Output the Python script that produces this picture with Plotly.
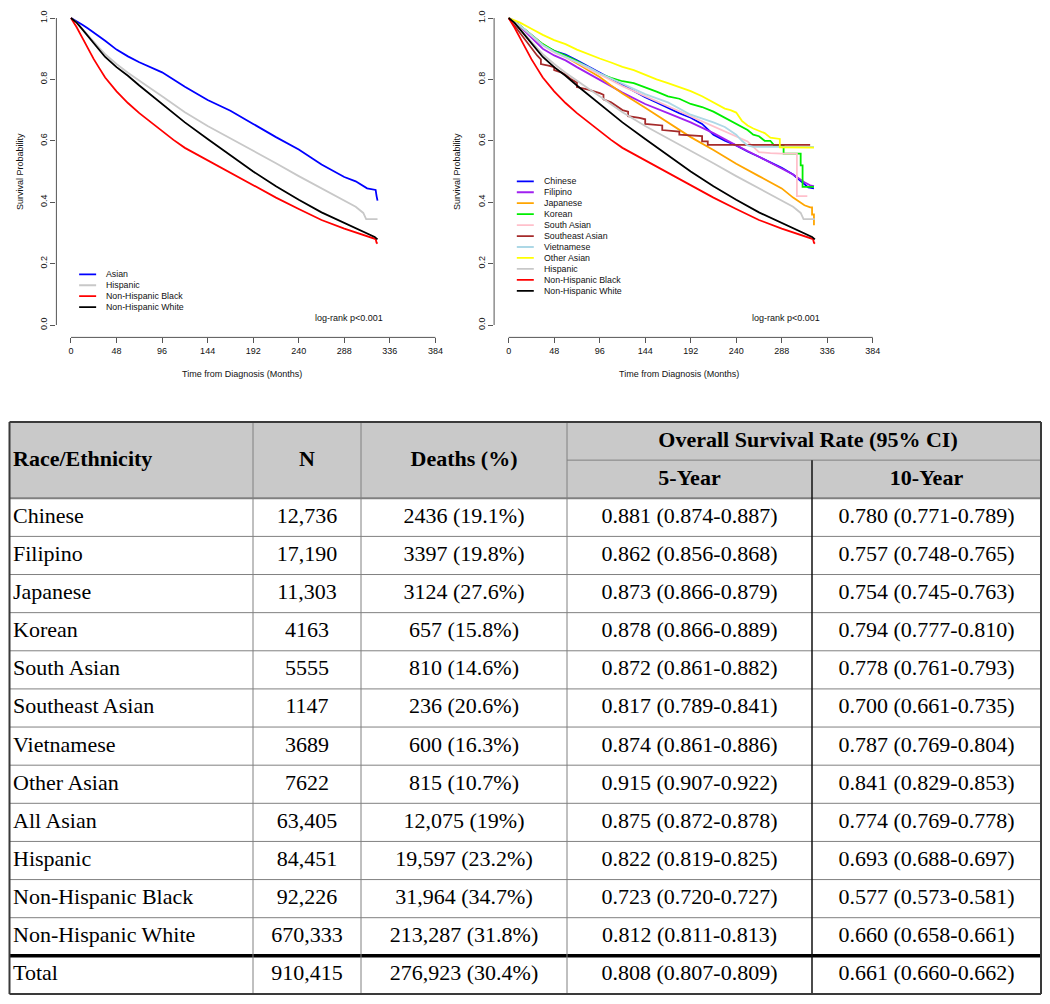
import plotly.graph_objects as go

# ---------------- Kaplan-Meier curves ----------------
asian_t = [0, 6, 12, 18, 24, 30, 36, 48, 60, 72, 84, 96, 108, 120, 144, 168, 192, 216, 240, 264, 288, 300, 312, 318, 321, 322, 323]
asian_s = [1.0, 0.99, 0.978, 0.966, 0.953, 0.94, 0.926, 0.897, 0.875, 0.856, 0.84, 0.823, 0.8, 0.776, 0.733, 0.698, 0.655, 0.612, 0.572, 0.523, 0.482, 0.468, 0.445, 0.44, 0.44, 0.42, 0.405]

hisp_t = [0, 6, 12, 18, 24, 30, 36, 48, 60, 72, 84, 96, 108, 120, 144, 168, 192, 216, 240, 264, 288, 300, 308, 311, 323]
hisp_s = [1.0, 0.985, 0.965, 0.943, 0.922, 0.902, 0.882, 0.85, 0.822, 0.795, 0.77, 0.745, 0.719, 0.693, 0.648, 0.608, 0.568, 0.527, 0.485, 0.445, 0.405, 0.385, 0.365, 0.345, 0.345]

nhb_t = [0, 3, 6, 12, 18, 24, 30, 36, 48, 60, 72, 84, 96, 108, 120, 144, 168, 192, 216, 240, 264, 288, 300, 312, 318, 321, 322, 323]
nhb_s = [1.0, 0.985, 0.97, 0.935, 0.9, 0.866, 0.836, 0.806, 0.761, 0.723, 0.69, 0.66, 0.632, 0.603, 0.577, 0.537, 0.495, 0.455, 0.415, 0.378, 0.342, 0.314, 0.302, 0.29, 0.283, 0.28, 0.268, 0.265]

nhw_t = [0, 6, 12, 18, 24, 30, 36, 48, 60, 72, 84, 96, 108, 120, 144, 168, 192, 216, 240, 264, 288, 300, 312, 320, 323]
nhw_s = [1.0, 0.985, 0.963, 0.94, 0.917, 0.895, 0.873, 0.84, 0.812, 0.78, 0.75, 0.72, 0.69, 0.66, 0.606, 0.552, 0.5, 0.452, 0.408, 0.367, 0.332, 0.316, 0.298, 0.287, 0.279]

chinese_t = [0, 6, 12, 24, 36, 48, 60, 72, 84, 96, 108, 120, 132, 144, 156, 168, 180, 192, 204, 216, 228, 240, 252, 264, 276, 288, 300, 306, 312, 316, 322]
chinese_s = [1.0, 0.99, 0.975, 0.945, 0.912, 0.893, 0.881, 0.862, 0.842, 0.82, 0.8, 0.78, 0.762, 0.742, 0.725, 0.707, 0.69, 0.675, 0.655, 0.62, 0.6, 0.585, 0.565, 0.548, 0.53, 0.512, 0.49, 0.475, 0.46, 0.448, 0.445]

filipino_t = [0, 6, 12, 24, 36, 48, 60, 72, 84, 96, 108, 120, 144, 168, 192, 216, 240, 264, 288, 300, 312, 318, 322]
filipino_s = [1.0, 0.99, 0.973, 0.935, 0.9, 0.878, 0.862, 0.84, 0.82, 0.8, 0.778, 0.757, 0.72, 0.69, 0.66, 0.625, 0.585, 0.548, 0.51, 0.49, 0.465, 0.455, 0.452]

japanese_t = [0, 12, 24, 36, 48, 60, 72, 84, 96, 108, 120, 144, 168, 192, 216, 240, 264, 288, 300, 312, 318, 320, 320, 322, 322]
japanese_s = [1.0, 0.975, 0.945, 0.915, 0.89, 0.873, 0.852, 0.83, 0.808, 0.78, 0.754, 0.708, 0.66, 0.612, 0.57, 0.525, 0.485, 0.445, 0.415, 0.39, 0.383, 0.383, 0.36, 0.36, 0.325]

korean_t = [0, 12, 24, 36, 48, 60, 72, 84, 96, 108, 120, 132, 144, 156, 168, 180, 192, 204, 216, 228, 240, 252, 258, 264, 270, 276, 280, 288, 290, 290, 308, 308, 310, 310, 322]
korean_s = [1.0, 0.975, 0.945, 0.915, 0.893, 0.878, 0.86, 0.84, 0.818, 0.805, 0.794, 0.788, 0.775, 0.76, 0.745, 0.737, 0.72, 0.71, 0.695, 0.675, 0.655, 0.635, 0.62, 0.615, 0.6, 0.6, 0.585, 0.585, 0.585, 0.558, 0.558, 0.52, 0.52, 0.45, 0.45]

sasian_t = [0, 12, 24, 36, 48, 60, 72, 84, 96, 108, 120, 144, 168, 192, 204, 216, 228, 240, 252, 258, 264, 276, 288, 304, 304, 315]
sasian_s = [1.0, 0.975, 0.942, 0.91, 0.888, 0.872, 0.855, 0.835, 0.815, 0.797, 0.778, 0.745, 0.712, 0.68, 0.662, 0.645, 0.63, 0.612, 0.598, 0.58, 0.563, 0.56, 0.558, 0.558, 0.42, 0.42]

seasian_t = [0, 6, 12, 18, 24, 30, 34, 34, 42, 48, 48, 56, 60, 66, 72, 72, 84, 90, 96, 100, 100, 108, 114, 120, 126, 126, 138, 144, 144, 156, 162, 162, 174, 180, 180, 198, 204, 204, 210, 210, 318]
seasian_s = [1.0, 0.975, 0.952, 0.925, 0.9, 0.878, 0.865, 0.85, 0.845, 0.84, 0.83, 0.822, 0.815, 0.8, 0.79, 0.775, 0.767, 0.762, 0.755, 0.75, 0.735, 0.725, 0.712, 0.7, 0.695, 0.68, 0.675, 0.67, 0.655, 0.652, 0.65, 0.635, 0.632, 0.63, 0.62, 0.618, 0.615, 0.598, 0.598, 0.587, 0.587]

viet_t = [0, 12, 24, 36, 48, 60, 72, 84, 96, 108, 120, 144, 168, 192, 216, 228, 240, 246, 252, 258, 322]
viet_s = [1.0, 0.975, 0.945, 0.912, 0.89, 0.874, 0.857, 0.84, 0.82, 0.803, 0.787, 0.752, 0.725, 0.685, 0.66, 0.645, 0.62, 0.6, 0.585, 0.58, 0.58]

other_t = [0, 12, 24, 36, 48, 60, 72, 84, 96, 108, 120, 132, 144, 156, 168, 180, 192, 204, 216, 228, 234, 240, 246, 252, 258, 264, 270, 276, 286, 286, 322]
other_s = [1.0, 0.985, 0.965, 0.945, 0.928, 0.915, 0.897, 0.882, 0.868, 0.855, 0.841, 0.83, 0.815, 0.8, 0.788, 0.775, 0.762, 0.745, 0.725, 0.705, 0.7, 0.692, 0.665, 0.65, 0.64, 0.632, 0.625, 0.61, 0.606, 0.579, 0.578]

x_ticks = [0, 48, 96, 144, 192, 240, 288, 336, 384]
y_ticks = [0, 0.2, 0.4, 0.6, 0.8, 1.0]
y_ticktext = ["0.0", "0.2", "0.4", "0.6", "0.8", "1.0"]

# ---------------- table ----------------
races = ["Chinese", "Filipino", "Japanese", "Korean", "South Asian", "Southeast Asian",
         "Vietnamese", "Other Asian", "All Asian", "Hispanic", "Non-Hispanic Black",
         "Non-Hispanic White", "Total"]
n_vals = ["12,736", "17,190", "11,303", "4163", "5555", "1147", "3689", "7622",
          "63,405", "84,451", "92,226", "670,333", "910,415"]
deaths = ["2436 (19.1%)", "3397 (19.8%)", "3124 (27.6%)", "657 (15.8%)", "810 (14.6%)",
          "236 (20.6%)", "600 (16.3%)", "815 (10.7%)", "12,075 (19%)", "19,597 (23.2%)",
          "31,964 (34.7%)", "213,287 (31.8%)", "276,923 (30.4%)"]
os5 = ["0.881 (0.874-0.887)", "0.862 (0.856-0.868)", "0.873 (0.866-0.879)", "0.878 (0.866-0.889)",
       "0.872 (0.861-0.882)", "0.817 (0.789-0.841)", "0.874 (0.861-0.886)", "0.915 (0.907-0.922)",
       "0.875 (0.872-0.878)", "0.822 (0.819-0.825)", "0.723 (0.720-0.727)", "0.812 (0.811-0.813)",
       "0.808 (0.807-0.809)"]
os10 = ["0.780 (0.771-0.789)", "0.757 (0.748-0.765)", "0.754 (0.745-0.763)", "0.794 (0.777-0.810)",
        "0.778 (0.761-0.793)", "0.700 (0.661-0.735)", "0.787 (0.769-0.804)", "0.841 (0.829-0.853)",
        "0.774 (0.769-0.778)", "0.693 (0.688-0.697)", "0.577 (0.573-0.581)", "0.660 (0.658-0.661)",
        "0.661 (0.660-0.662)"]

# page body has an 8px margin, so the figure is sized to fit inside the window
OFF = 8
W, H = 1050 - OFF, 1004 - OFF
SANS = "Liberation Sans"
SERIF = "Liberation Serif"
LW = 1.8


def px(xp):   # window x pixel -> paper fraction
    return (xp - OFF) / W


def py(yp):   # window y pixel -> paper fraction
    return 1 - (yp - OFF) / H


# vertical scale of the KM panels (window pixels)
Y1_PX, Y0_PX, AXIS_PX = 18.0, 325.0, 337.4
SCALE = Y0_PX - Y1_PX


def sv(yp):   # window y pixel -> survival value
    return (Y0_PX - yp) / SCALE


left_series = [
    ("Asian", asian_t, asian_s, "#0000ff"),
    ("Hispanic", hisp_t, hisp_s, "#c8c8c8"),
    ("Non-Hispanic Black", nhb_t, nhb_s, "#ff0000"),
    ("Non-Hispanic White", nhw_t, nhw_s, "#000000"),
]
right_series = [
    ("Chinese", chinese_t, chinese_s, "#0000ff"),
    ("Filipino", filipino_t, filipino_s, "#a020f0"),
    ("Japanese", japanese_t, japanese_s, "#ffa500"),
    ("Korean", korean_t, korean_s, "#00ee00"),
    ("South Asian", sasian_t, sasian_s, "#ffc0cb"),
    ("Southeast Asian", seasian_t, seasian_s, "#a52a2a"),
    ("Vietnamese", viet_t, viet_s, "#add8e6"),
    ("Other Asian", other_t, other_s, "#ffff00"),
    ("Hispanic", hisp_t, hisp_s, "#c8c8c8"),
    ("Non-Hispanic Black", nhb_t, nhb_s, "#ff0000"),
    ("Non-Hispanic White", nhw_t, nhw_s, "#000000"),
]

fig = go.Figure()

for name, t, s, col in left_series:
    fig.add_trace(go.Scatter(x=t, y=s, mode="lines", name=name, showlegend=False,
                             line=dict(color=col, width=LW), xaxis="x", yaxis="y"))
for name, t, s, col in right_series:
    fig.add_trace(go.Scatter(x=t, y=s, mode="lines", name=name, showlegend=False,
                             line=dict(color=col, width=LW), xaxis="x2", yaxis="y2"))

shapes = []
annotations = []

# R-style axes, legends, labels for both KM panels
axis_col = "#555555"
txt_col = "#111111"
for ax, series, leg_px, title_x, ytitle_x in (("", left_series, 274.3, 241.5, 20),
                                              ("2", right_series, 181.3, 679.2, 457)):
    xr, yr = "x" + ax, "y" + ax
    shapes.append(dict(type="line", xref=xr, yref=yr + " domain", x0=0, x1=384, y0=0, y1=0,
                       line=dict(color=axis_col, width=1)))
    shapes.append(dict(type="line", xref=xr + " domain", yref=yr, x0=0, x1=0, y0=0, y1=1,
                       line=dict(color=axis_col, width=1)))
    for i, item in enumerate(series):
        name, col = item[0], item[3]
        yy = sv(leg_px + i * 10.95)
        shapes.append(dict(type="line", xref=xr, yref=yr, x0=8.6, x1=26.5, y0=yy, y1=yy,
                           line=dict(color=col, width=LW)))
        annotations.append(dict(xref=xr, yref=yr, x=34.8, y=yy, text=name, showarrow=False,
                                xanchor="left", yanchor="middle",
                                font=dict(family=SANS, size=8.8, color=txt_col)))
    annotations.append(dict(xref=xr, yref=yr, x=293, y=sv(318), text="log-rank p<0.001", showarrow=False,
                            xanchor="center", yanchor="middle",
                            font=dict(family=SANS, size=9, color=txt_col)))
    annotations.append(dict(xref="paper", yref="paper", x=px(title_x), y=py(374),
                            text="Time from Diagnosis (Months)", showarrow=False,
                            xanchor="center", yanchor="middle",
                            font=dict(family=SANS, size=9, color=txt_col)))
    annotations.append(dict(xref="paper", yref="paper", x=px(ytitle_x), y=py(172),
                            text="Survival Probability", showarrow=False, textangle=-90,
                            xanchor="center", yanchor="middle",
                            font=dict(family=SANS, size=9, color=txt_col)))

# ---------------- table drawing (x3 in window pixels, y3 in row units) ----------------
col_x = [9.5, 253, 361, 567, 812, 1041]
n_rows = len(races)          # 12 groups + total
body_top = 2                 # header spans two units
bottom = body_top + n_rows
grid = "#808080"
dark = "#3a3a3a"

shapes.append(dict(type="rect", xref="x3", yref="y3", x0=col_x[0], x1=col_x[-1], y0=0, y1=body_top,
                   fillcolor="#c9c9c9", line=dict(width=0), layer="below"))
for r in range(body_top + 1, bottom - 1):
    shapes.append(dict(type="line", xref="x3", yref="y3", x0=col_x[0], x1=col_x[-1], y0=r, y1=r,
                       line=dict(color=grid, width=1)))
shapes.append(dict(type="line", xref="x3", yref="y3", x0=col_x[0], x1=col_x[-1], y0=body_top, y1=body_top,
                   line=dict(color=grid, width=2)))
shapes.append(dict(type="line", xref="x3", yref="y3", x0=col_x[3], x1=col_x[-1], y0=1, y1=1,
                   line=dict(color=grid, width=1)))
shapes.append(dict(type="line", xref="x3", yref="y3", x0=col_x[0], x1=col_x[-1], y0=bottom - 1, y1=bottom - 1,
                   line=dict(color="#000000", width=3.5)))
for c in col_x[1:4]:
    shapes.append(dict(type="line", xref="x3", yref="y3", x0=c, x1=c, y0=0, y1=bottom,
                       line=dict(color=grid, width=1)))
shapes.append(dict(type="line", xref="x3", yref="y3", x0=col_x[4], x1=col_x[4], y0=1, y1=bottom,
                   line=dict(color="#111111", width=1.5)))
for c in (col_x[0], col_x[-1]):
    shapes.append(dict(type="line", xref="x3", yref="y3", x0=c, x1=c, y0=0, y1=bottom,
                       line=dict(color=dark, width=2)))
for r in (0, bottom):
    shapes.append(dict(type="line", xref="x3", yref="y3", x0=col_x[0], x1=col_x[-1], y0=r, y1=r,
                       line=dict(color=dark, width=2)))

centers = [(col_x[i] + col_x[i + 1]) / 2 for i in range(5)]
row_y = [body_top + 0.5 + i for i in range(n_rows)]
cell_font = dict(family=SERIF, size=22, color="#000000")
left_pad = 13

fig.add_trace(go.Scatter(x=[left_pad] * n_rows, y=row_y, text=races, mode="text",
                         textposition="middle right", textfont=cell_font, showlegend=False,
                         hoverinfo="skip", xaxis="x3", yaxis="y3", cliponaxis=False))
for ci, vals in zip(range(1, 5), (n_vals, deaths, os5, os10)):
    fig.add_trace(go.Scatter(x=[centers[ci]] * n_rows, y=row_y, text=vals, mode="text",
                             textposition="middle center", textfont=cell_font, showlegend=False,
                             hoverinfo="skip", xaxis="x3", yaxis="y3", cliponaxis=False))

head_x = [left_pad, centers[1], centers[2], (centers[3] + centers[4]) / 2, centers[3], centers[4]]
head_y = [1, 1, 1, 0.5, 1.5, 1.5]
head_txt = ["<b>Race/Ethnicity</b>", "<b>N</b>", "<b>Deaths (%)</b>",
            "<b>Overall Survival Rate (95% CI)</b>", "<b>5-Year</b>", "<b>10-Year</b>"]
head_pos = ["middle right"] + ["middle center"] * 5
fig.add_trace(go.Scatter(x=head_x, y=head_y, text=head_txt, mode="text", textposition=head_pos,
                         textfont=cell_font, showlegend=False, hoverinfo="skip",
                         xaxis="x3", yaxis="y3", cliponaxis=False))

# ---------------- layout ----------------
# KM panels: x range is R's 4% padded 0..384; y range runs from the axis line to the page top
y_bot = sv(AXIS_PX)
y_top = sv(OFF)


def km_xaxis(dom, anchor):
    return dict(domain=dom, anchor=anchor, range=[-15.36, 399.36], tickvals=x_ticks, automargin=False,
                showline=False, showgrid=False, zeroline=False, ticks="outside", ticklen=5,
                ticklabeloverflow="allow",
                tickcolor=axis_col, tickfont=dict(family=SANS, size=9, color=txt_col))


def km_yaxis(anchor):
    return dict(domain=[py(AXIS_PX), 1], anchor=anchor, range=[y_bot, y_top], tickvals=y_ticks,
                ticktext=y_ticktext, tickangle=-90, showline=False, showgrid=False, zeroline=False,
                ticks="outside", automargin=False, ticklen=5, tickcolor=axis_col,
                ticklabeloverflow="allow",
                tickfont=dict(family=SANS, size=9, color=txt_col))


u = 38.13  # pixels per table row unit
tab_top = 422
fig.update_layout(
    width=W, height=H,
    margin=dict(l=0, r=0, t=0, b=0),
    paper_bgcolor="white", plot_bgcolor="rgba(0,0,0,0)",
    xaxis=km_xaxis([px(56.4), px(450)], "y"), yaxis=km_yaxis("x"),
    xaxis2=km_xaxis([px(494.1), px(887.3)], "y2"), yaxis2=km_yaxis("x2"),
    xaxis3=dict(domain=[0, 1], anchor="y3", range=[OFF, OFF + W], visible=False, automargin=False),
    yaxis3=dict(domain=[py(tab_top + u * 15.2), py(tab_top - u * 0.2)], anchor="x3",
                range=[15.2, -0.2], visible=False, automargin=False),
    shapes=shapes, annotations=annotations,
    showlegend=False,
)

fig.write_html("out.html")
